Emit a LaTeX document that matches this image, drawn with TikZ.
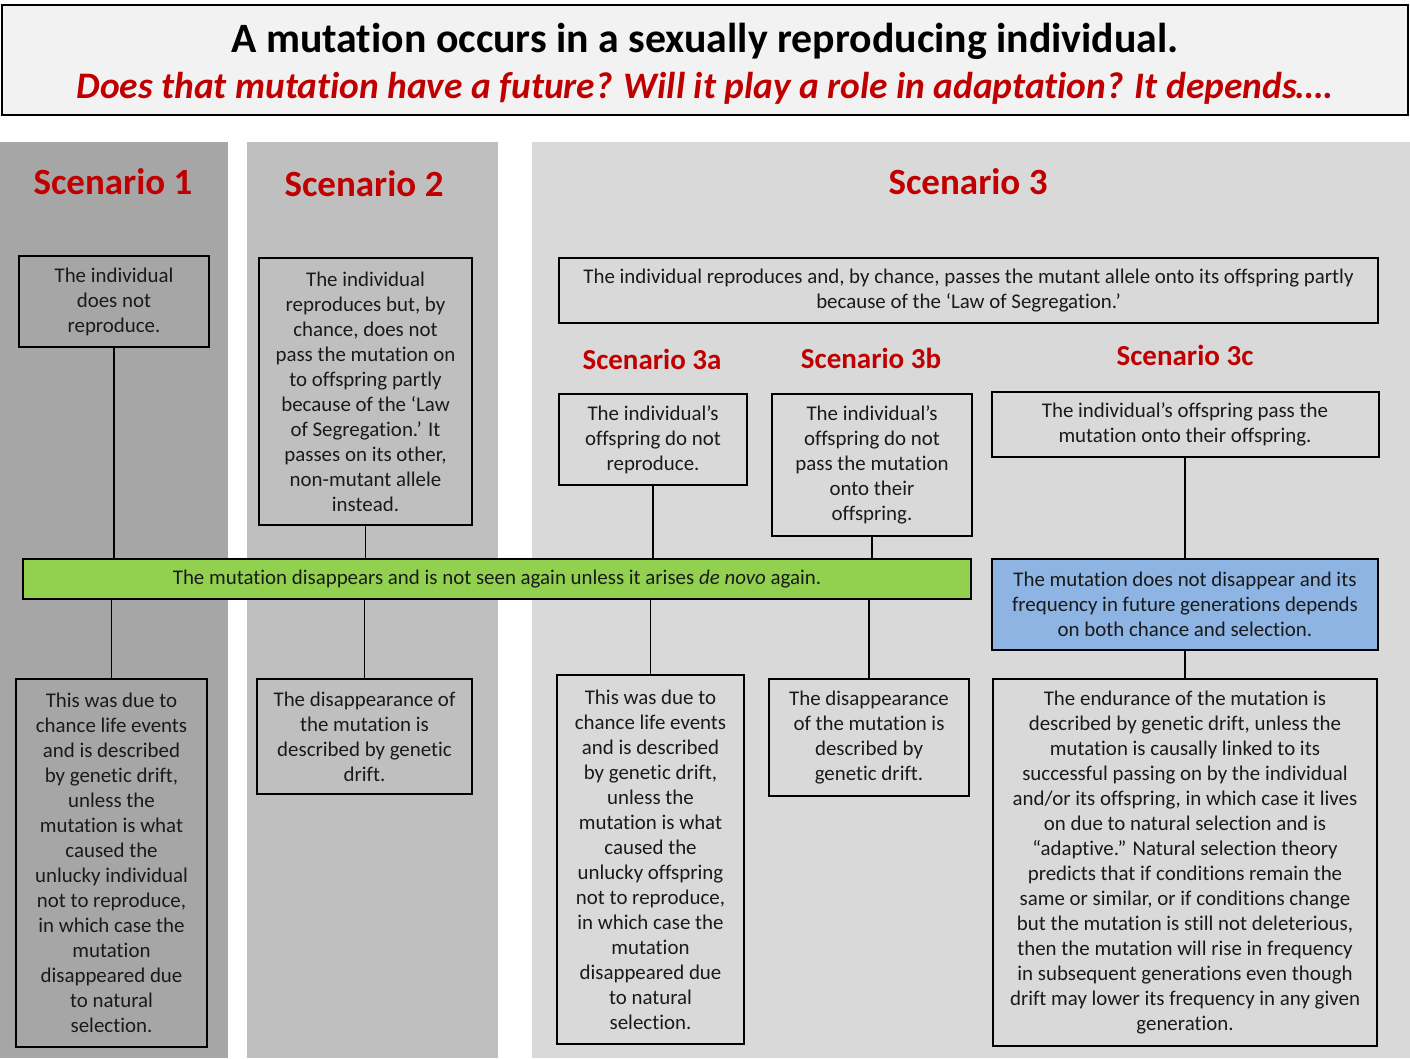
\documentclass[tikz,border=0pt]{standalone}
\usepackage{fontspec}
\setmainfont{Carlito}[Ligatures=NoCommon]
\usepackage{xcolor}
\definecolor{scred}{RGB}{192,0,0}
\definecolor{panelA}{RGB}{166,166,166}
\definecolor{panelB}{RGB}{191,191,191}
\definecolor{panelC}{RGB}{217,217,217}
\definecolor{titlefill}{RGB}{242,242,242}
\definecolor{goneGreen}{RGB}{146,208,80}
\definecolor{stayBlue}{RGB}{141,180,226}
\definecolor{bodytext}{RGB}{26,26,26}
\usetikzlibrary{positioning}
\newcommand\bodyfont{\fontsize{20.9}{25}\selectfont}

\begin{document}
\begin{tikzpicture}[
  x=1pt,y=-1pt,
  box/.style={draw,line width=2pt,align=center,inner sep=0pt,font=\bodyfont,text=bodytext},
  head/.style={font=\fontsize{37}{42}\selectfont\bfseries,text=scred},
  subhead/.style={font=\fontsize{29}{34}\selectfont\bfseries,text=scred},
  link/.style={line width=1.5pt,black}
]
  \useasboundingbox (0,0) rectangle (1410,1058);
  % panels
  \fill[panelA] (0,142) rectangle (228,1058);
  \fill[panelB] (247,142) rectangle (498,1058);
  \fill[panelC] (532,142) rectangle (1410,1058);
  \node[draw,line width=2pt,fill=titlefill,minimum width=1406pt,minimum height=110pt,inner sep=0pt] (title) at (705,60) {};
  \node[font=\fontsize{41.8}{46}\selectfont\bfseries] (titleA) at (705,41) {A mutation occurs in a sexually reproducing individual.};
  \node[font=\fontsize{37.4}{42}\selectfont\bfseries\itshape,text=scred] (titleB) at (705,88) {Does that mutation have a future? Will it play a role in adaptation? It depends\dots.};
  \node[head] (sc1) at (113,182) {Scenario 1};
  \node[head] (sc2) at (364,184) {Scenario 2};
  \node[head] (sc3) at (968,182) {Scenario 3};
  \node[subhead] (sc3a) at (652,359) {Scenario 3a};
  \node[subhead] (sc3b) at (871,358) {Scenario 3b};
  \node[subhead] (sc3c) at (1185,355) {Scenario 3c};
  % top row
  \node[box,minimum width=190pt,minimum height=91pt] (s1top) at (114,301.5) {The individual\\does not\\reproduce.};
  \node[box,minimum width=213pt,minimum height=267pt] (s2top) at (365.5,391.5) {The individual\\reproduces but, by\\chance, does not\\pass the mutation on\\to offspring partly\\because of the ‘Law\\of Segregation.’ It\\passes on its other,\\non-mutant allele\\instead.};
  \node[box,minimum width=819pt,minimum height=65pt] (s3top) at (968.5,290.5) {The individual reproduces and, by chance, passes the mutant allele onto its offspring partly\\because of the ‘Law of Segregation.’};
  \node[box,minimum width=188pt,minimum height=91pt] (a3top) at (653,439.5) {The individual’s\\offspring do not\\reproduce.};
  \node[box,minimum width=200pt,minimum height=142pt] (b3top) at (872,465) {The individual’s\\offspring do not\\pass the mutation\\onto their\\offspring.};
  \node[box,minimum width=387pt,minimum height=65pt] (c3top) at (1185,424.5) {The individual’s offspring pass the\\mutation onto their offspring.};
  % middle row
  \node[box,fill=goneGreen,minimum width=948pt,minimum height=40pt] (gone) at (497,579) {The mutation disappears and is not seen again unless it arises \textit{de novo} again.};
  \node[box,fill=stayBlue,minimum width=386pt,minimum height=91pt] (stay) at (1185,604.5) {The mutation does not disappear and its\\frequency in future generations depends\\on both chance and selection.};
  % bottom row
  \node[box,minimum width=191pt,minimum height=368pt] (s1bot) at (111.5,863) {This was due to\\chance life events\\and is described\\by genetic drift,\\unless the\\mutation is what\\caused the\\unlucky individual\\not to reproduce,\\in which case the\\mutation\\disappeared due\\to natural\\selection.};
  \node[box,minimum width=215pt,minimum height=115pt] (s2bot) at (364.5,736.5) {The disappearance of\\the mutation is\\described by genetic\\drift.};
  \node[box,minimum width=187pt,minimum height=369pt] (a3bot) at (650.5,859.5) {This was due to\\chance life events\\and is described\\by genetic drift,\\unless the\\mutation is what\\caused the\\unlucky offspring\\not to reproduce,\\in which case the\\mutation\\disappeared due\\to natural\\selection.};
  \node[box,minimum width=200pt,minimum height=117pt] (b3bot) at (869,737.5) {The disappearance\\of the mutation is\\described by\\genetic drift.};
  \node[box,minimum width=384pt,minimum height=367pt] (c3bot) at (1185,862.5) {The endurance of the mutation is\\described by genetic drift, unless the\\mutation is causally linked to its\\successful passing on by the individual\\and/or its offspring, in which case it lives\\on due to natural selection and is\\“adaptive.” Natural selection theory\\predicts that if conditions remain the\\same or similar, or if conditions change\\but the mutation is still not deleterious,\\then the mutation will rise in frequency\\in subsequent generations even though\\drift may lower its frequency in any given\\generation.};
  % connectors
  \draw[link] (s1top.south) -- (s1top.south |- gone.north);
  \draw[link] (s1bot.north |- gone.south) -- (s1bot.north);
  \draw[link] (s2top.south) -- (s2top.south |- gone.north);
  \draw[link] (s2bot.north |- gone.south) -- (s2bot.north);
  \draw[link] (a3top.south) -- (a3top.south |- gone.north);
  \draw[link] (a3bot.north |- gone.south) -- (a3bot.north);
  \draw[link] (b3top.south) -- (b3top.south |- gone.north);
  \draw[link] (b3bot.north |- gone.south) -- (b3bot.north);
  \draw[link] (c3top.south) -- (stay.north);
  \draw[link] (stay.south) -- (c3bot.north);
\end{tikzpicture}
\end{document}
